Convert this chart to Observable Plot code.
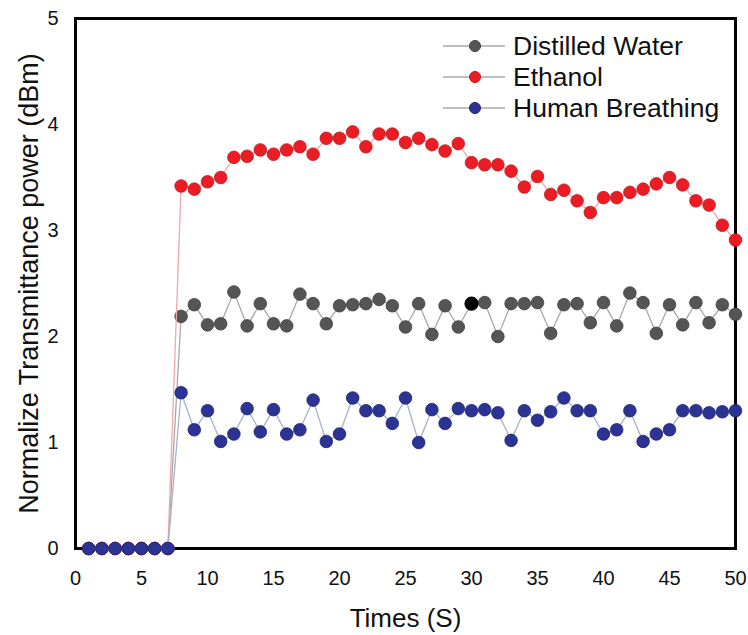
<!DOCTYPE html>
<html>
<head>
<meta charset="utf-8">
<script src="https://cdn.jsdelivr.net/npm/d3@7"></script>
<script src="https://cdn.jsdelivr.net/npm/@observablehq/plot@0.6"></script>
<style>
  html, body { margin: 0; padding: 0; background: #fff; }
  #chart { width: 748px; height: 635px; }
</style>
</head>
<body>
<div id="chart"></div>
<script>
// ---- Data ----
const times = [1,2,3,4,5,6,7,8,9,10,11,12,13,14,15,16,17,18,19,20,21,22,23,24,25,26,27,28,29,30,31,32,33,34,35,36,37,38,39,40,41,42,43,44,45,46,47,48,49,50];

const distilledWater = [0,0,0,0,0,0,0,
  2.19,2.30,2.11,2.12,2.42,2.10,2.31,2.12,2.10,2.40,
  2.31,2.12,2.29,2.30,2.31,2.35,2.29,2.09,2.31,2.02,
  2.29,2.09,2.31,2.32,2.00,2.31,2.31,2.32,2.03,2.30,
  2.31,2.13,2.32,2.10,2.41,2.32,2.03,2.30,2.11,2.32,
  2.13,2.30,2.21];

const ethanol = [0,0,0,0,0,0,0,
  3.42,3.39,3.46,3.50,3.69,3.70,3.76,3.72,3.76,3.79,
  3.72,3.87,3.87,3.93,3.79,3.91,3.91,3.83,3.87,3.81,
  3.75,3.82,3.64,3.62,3.62,3.56,3.41,3.51,3.34,3.38,
  3.28,3.17,3.31,3.31,3.36,3.39,3.44,3.50,3.43,3.28,
  3.24,3.05,2.91];

const humanBreathing = [0,0,0,0,0,0,0,
  1.47,1.12,1.30,1.01,1.08,1.32,1.10,1.31,1.08,1.12,
  1.40,1.01,1.08,1.42,1.30,1.30,1.18,1.42,1.00,1.31,
  1.18,1.32,1.30,1.31,1.28,1.02,1.30,1.21,1.29,1.42,
  1.30,1.30,1.08,1.12,1.30,1.01,1.08,1.12,1.30,1.30,
  1.28,1.29,1.30];

const seriesNames = ["Distilled Water", "Ethanol", "Human Breathing"];
const seriesValues = [distilledWater, ethanol, humanBreathing];
const dotFill = ["#555555", "#ec1c24", "#2b3494"];
const dotStroke = ["#3f3f3f", "#c4161c", "#1c2370"];
const lineColor = ["#a8a8a8", "#f0a8a8", "#a3b4c8"];
const highlightTime = 30; // single black marker in the water series

const xTicks = [0,5,10,15,20,25,30,35,40,45,50];
const yTicks = [0,1,2,3,4,5];

const xLabel = "Times (S)";
const yLabel = "Normalize Transmittance power (dBm)";

// ---- Build tidy tables ----
const tables = seriesValues.map((vals, s) =>
  times.map((t, i) => ({time: t, value: vals[i], series: seriesNames[s]}))
);

const W = 748, H = 635;
const mL = 75, mR = 13, mT = 18, mB = 87;
const FONT = "'Liberation Sans', Arial, Helvetica, sans-serif";

// legend drawn in pixel (layout) space
const legendMark = () => {
  const g = d3.create("svg:g").attr("font-family", FONT);
  const lx = 443, ly = 46, gap = 31, len = 62;
  seriesNames.forEach((name, i) => {
    const y = ly + i * gap;
    g.append("line").attr("x1", lx).attr("x2", lx + len).attr("y1", y).attr("y2", y)
      .attr("stroke", "#a8a8a8").attr("stroke-width", 1.5);
    g.append("circle").attr("cx", lx + 32).attr("cy", y).attr("r", 5.5)
      .attr("fill", dotFill[i]).attr("stroke", dotStroke[i]).attr("stroke-width", 1);
    g.append("text").attr("x", lx + 70).attr("y", y).attr("dy", "0.35em")
      .attr("text-anchor", "start")
      .attr("font-size", 26.5).attr("fill", "#111").text(name);
  });
  return g.node();
};

const marks = [
  Plot.frame({stroke: "#000", strokeWidth: 3}),
  Plot.axisX(xTicks, {tickSize: 0, tickPadding: 22, fontSize: 20, label: null, fill: "#111", tickFormat: d => String(d)}),
  Plot.axisY(yTicks, {tickSize: 0, tickPadding: 17, fontSize: 20, label: null, fill: "#111", tickFormat: d => String(d)}),
  Plot.text([xLabel], {frameAnchor: "bottom", dy: 70, lineAnchor: "middle", textAnchor: "middle", fontSize: 26, fill: "#111", text: d => d}),
  Plot.text([yLabel], {frameAnchor: "left", dx: -46, rotate: -90, lineAnchor: "middle", textAnchor: "middle", fontSize: 27, fill: "#111", text: d => d})
];

tables.forEach((tbl, s) => {
  marks.push(Plot.line(tbl, {x: "time", y: "value", stroke: lineColor[s], strokeWidth: 1.3}));
  marks.push(Plot.dot(tbl, {x: "time", y: "value", r: 6.3, fill: dotFill[s], stroke: dotStroke[s], strokeWidth: 0.8}));
});
marks.push(Plot.dot(tables[0].filter(d => d.time === highlightTime), {x: "time", y: "value", r: 6.3, fill: "#000", stroke: "#000"}));
marks.push(legendMark);

const chart = Plot.plot({
  width: W,
  height: H,
  marginLeft: mL,
  marginRight: mR,
  marginTop: mT,
  marginBottom: mB,
  style: {fontFamily: FONT, background: "#fff", overflow: "visible"},
  x: {domain: [0, 50]},
  y: {domain: [0, 5]},
  marks
});
document.getElementById("chart").appendChild(chart);
</script>
</body>
</html>
